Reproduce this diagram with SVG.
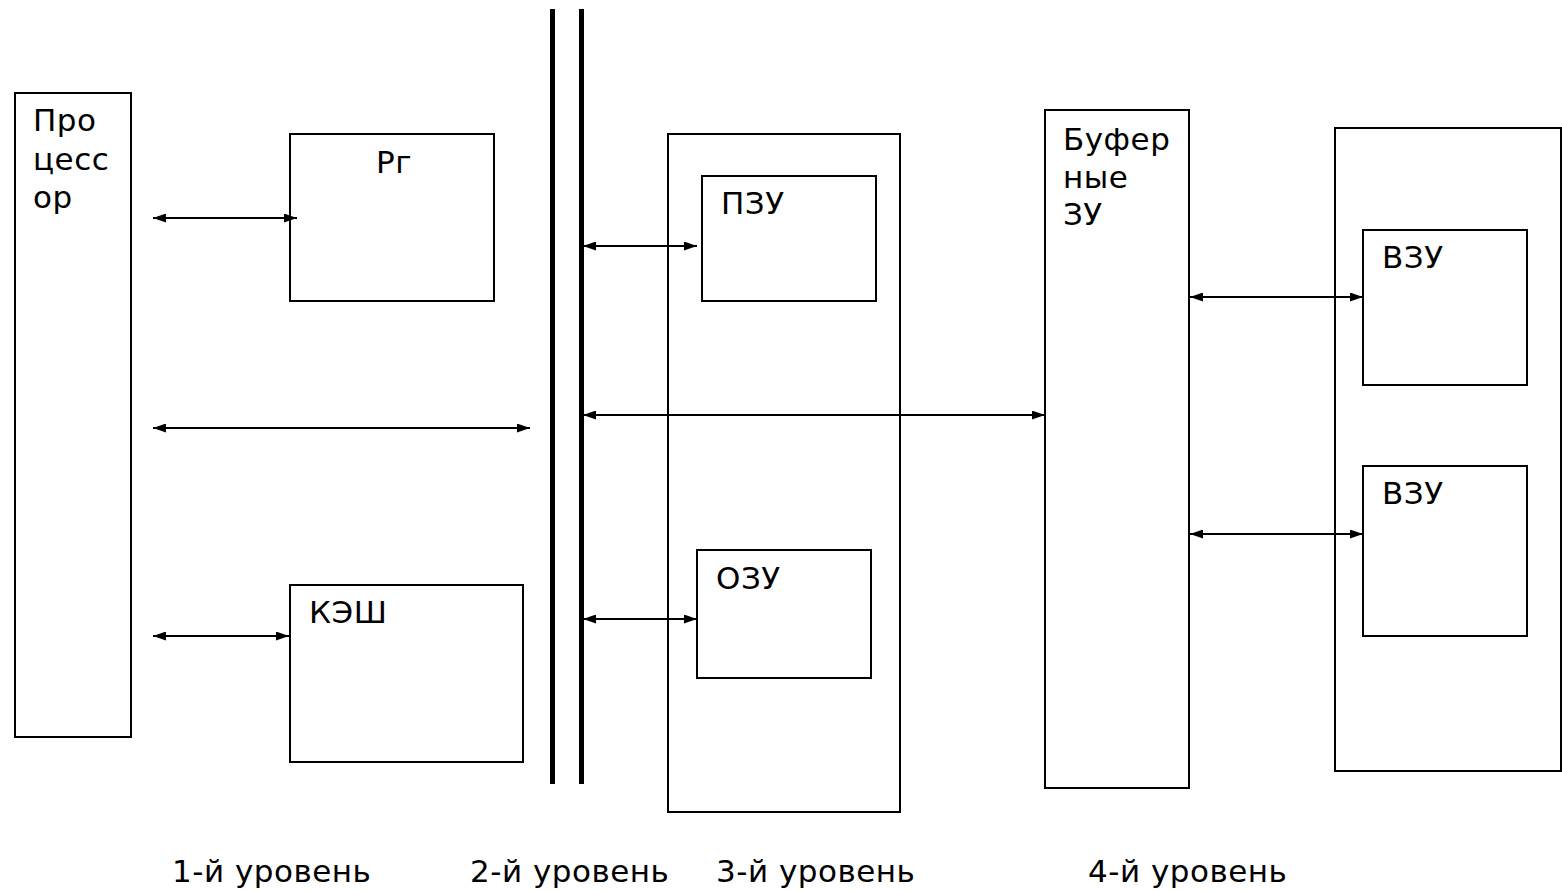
<svg xmlns="http://www.w3.org/2000/svg" width="1562" height="891" viewBox="0 0 1562 891">
<style>
.box{fill:#fff;stroke:#000;stroke-width:2}
.t{font-family:"DejaVu Sans","Noto Sans",sans-serif;font-size:31px;letter-spacing:0.5px;fill:#000}
.c{stroke:#000;stroke-width:2;fill:none;marker-start:url(#a);marker-end:url(#a)}
</style>
<defs>
<marker id="a" viewBox="0 0 13 9" refX="13" refY="4.5" markerWidth="13" markerHeight="9" markerUnits="userSpaceOnUse" orient="auto-start-reverse">
<path d="M0,0 L13,4.5 L0,9 Z" fill="#000"/>
</marker>
</defs>
<rect width="1562" height="891" fill="#fff"/>
<g id="processor"><rect class="box" x="15" y="93" width="116" height="644"/>
<text class="t" x="33" y="131">Про</text><text class="t" x="33" y="170">цесс</text><text class="t" x="33" y="208">ор</text></g>
<g id="rg"><rect class="box" x="290" y="134" width="204" height="167"/><text class="t" x="376" y="173">Рг</text></g>
<g id="cache"><rect class="box" x="290" y="585" width="233" height="177"/><text class="t" x="309" y="623">КЭШ</text></g>
<g id="bus"><line x1="552.5" y1="9" x2="552.5" y2="784" stroke="#000" stroke-width="5"/><line x1="581.5" y1="9" x2="581.5" y2="784" stroke="#000" stroke-width="5"/></g>
<g id="level3"><rect class="box" x="668" y="134" width="232" height="678"/></g>
<g id="pzu"><rect class="box" x="702" y="176" width="174" height="125"/><text class="t" x="721" y="214">ПЗУ</text></g>
<g id="ozu"><rect class="box" x="697" y="550" width="174" height="128"/><text class="t" x="716" y="589">ОЗУ</text></g>
<g id="buffer"><rect class="box" x="1045" y="110" width="144" height="678"/>
<text class="t" x="1063" y="150">Буфер</text><text class="t" x="1063" y="188">ные</text><text class="t" x="1063" y="225">ЗУ</text></g>
<g id="level4"><rect class="box" x="1335" y="128" width="226" height="643"/></g>
<g id="vzu1"><rect class="box" x="1363" y="230" width="164" height="155"/><text class="t" x="1382" y="268">ВЗУ</text></g>
<g id="vzu2"><rect class="box" x="1363" y="466" width="164" height="170"/><text class="t" x="1382" y="504">ВЗУ</text></g>
<g id="connectors">
<line class="c" x1="153" y1="218" x2="297" y2="218"/>
<line class="c" x1="153" y1="428" x2="530" y2="428"/>
<line class="c" x1="153" y1="636" x2="289" y2="636"/>
<line class="c" x1="583" y1="246" x2="697" y2="246"/>
<line class="c" x1="583" y1="415" x2="1045" y2="415"/>
<line class="c" x1="583" y1="619" x2="697" y2="619"/>
<line class="c" x1="1190" y1="297" x2="1363" y2="297"/>
<line class="c" x1="1190" y1="534" x2="1363" y2="534"/>
</g>
<g id="labels">
<text class="t" x="172" y="882">1-й уровень</text>
<text class="t" x="470" y="882">2-й уровень</text>
<text class="t" x="716" y="882">3-й уровень</text>
<text class="t" x="1088" y="882">4-й уровень</text>
</g>
</svg>
